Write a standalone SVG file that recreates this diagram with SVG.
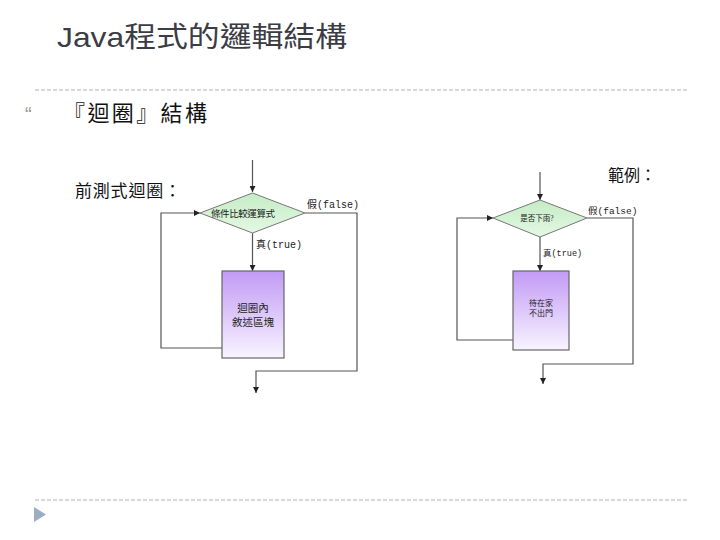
<svg xmlns="http://www.w3.org/2000/svg" width="720" height="540" viewBox="0 0 720 540">
<style>
.t{font-family:"Liberation Sans","Noto Sans CJK TC",sans-serif}
.d{font-family:"Liberation Serif","Noto Sans CJK TC",serif;fill:#222}
.m{font-family:"Liberation Mono","Noto Sans CJK TC",monospace;fill:#222}
.ln{fill:none;stroke:#555;stroke-width:1.2}
.sep{stroke:#b0b0b0;stroke-width:1;stroke-dasharray:4,2}
.dia{fill:url(#gg);stroke:#777;stroke-width:1}
.box{fill:url(#pg);stroke:#666;stroke-width:1.2}
</style>
<defs>
<linearGradient id="pg" x1="0" y1="0" x2="0" y2="1">
<stop offset="0" stop-color="#c29af5"/>
<stop offset="1" stop-color="#f8f4ff"/>
</linearGradient>
<linearGradient id="gg" x1="0" y1="0" x2="0" y2="1">
<stop offset="0" stop-color="#c4ecc4"/>
<stop offset="1" stop-color="#e4f8e4"/>
</linearGradient>
<marker id="ar" viewBox="0 0 10 10" refX="10" refY="5" markerWidth="6" markerHeight="6" markerUnits="userSpaceOnUse" orient="auto">
<path d="M0,0 L10,5 L0,10 z" fill="#222"/>
</marker>
</defs>
<rect width="720" height="540" fill="#fff"/>
<text class="t" x="57" y="47" font-size="28" fill="#3c3c44" textLength="290" lengthAdjust="spacingAndGlyphs">Java程式的邏輯結構</text>
<line class="sep" x1="35" y1="90" x2="688" y2="90"/>
<line class="sep" x1="35" y1="500" x2="688" y2="500"/>
<text class="t" x="25" y="121" font-size="20" fill="#999">“</text>
<text class="t" x="63" y="121" font-size="22" fill="#111" textLength="144">『迴圈』結構</text>
<text class="t" x="75" y="197" font-size="17" fill="#111" textLength="106">前測式迴圈：</text>
<text class="t" x="608" y="181" font-size="16" fill="#111">範例：</text>
<polygon points="34,507 46,514.5 34,522" fill="#9aaec6"/>
<g id="connectors">
<line class="ln" x1="252.5" y1="160" x2="252.5" y2="192" marker-end="url(#ar)"/>
<line class="ln" x1="252.5" y1="233" x2="252.5" y2="271" marker-end="url(#ar)"/>
<polyline class="ln" points="222,348 161,348 161,213 200,213" marker-end="url(#ar)"/>
<polyline class="ln" points="305,213 357,213 357,371 256,371 256,393" marker-end="url(#ar)"/>
<line class="ln" x1="540" y1="172" x2="540" y2="200" marker-end="url(#ar)"/>
<line class="ln" x1="540" y1="237" x2="540" y2="271" marker-end="url(#ar)"/>
<polyline class="ln" points="513,340 457,340 457,218 493,218" marker-end="url(#ar)"/>
<polyline class="ln" points="587,218 633,218 633,364 543,364 543,384" marker-end="url(#ar)"/>
</g>
<g id="cond1">
<polygon class="dia" points="252.5,193 305,213 252.5,233 200,213"/>
<text class="d" x="243" y="217" font-size="9.5" text-anchor="middle" textLength="64">條件比較運算式</text>
</g>
<g id="body1">
<rect class="box" x="222" y="271" width="62" height="87"/>
<text class="d" x="253" y="312" font-size="10.5" text-anchor="middle">迴圈內</text>
<text class="d" x="253" y="326" font-size="10.5" text-anchor="middle">敘述區塊</text>
</g>
<text class="m" x="307" y="208" font-size="10">假(false)</text>
<text class="m" x="256" y="248" font-size="10">真(true)</text>
<g id="cond2">
<polygon class="dia" points="540,200 587,218 540,237 493,218"/>
<text class="d" x="537" y="221" font-size="7.5" text-anchor="middle">是否下雨?</text>
</g>
<g id="body2">
<rect class="box" x="513" y="271" width="56" height="79"/>
<text class="d" x="541" y="306" font-size="8" text-anchor="middle">待在家</text>
<text class="d" x="541" y="316" font-size="8" text-anchor="middle">不出門</text>
</g>
<text class="m" x="588" y="214" font-size="9.5">假(false)</text>
<text class="m" x="543" y="256" font-size="8.5">真(true)</text>
</svg>
